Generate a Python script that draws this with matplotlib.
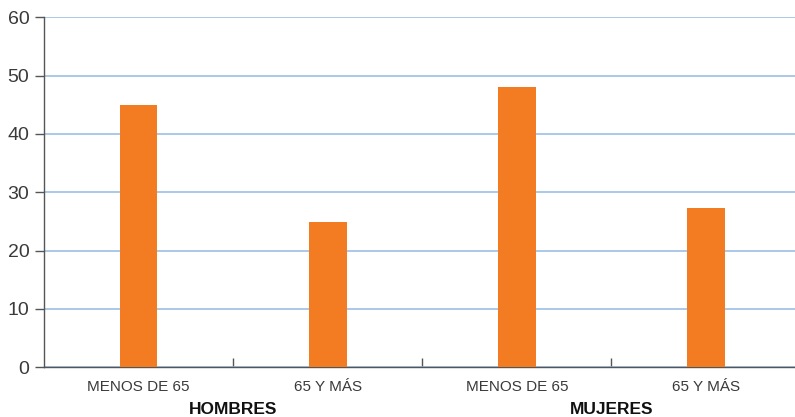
import numpy as np
import matplotlib.pyplot as plt
import matplotlib.transforms as mtransforms

plt.rcParams['font.family'] = ['Liberation Sans', 'DejaVu Sans']

categories = ['MENOS DE 65', '65 Y MÁS', 'MENOS DE 65', '65 Y MÁS']
groups = ['HOMBRES', 'MUJERES']
values = [44.9, 24.9, 48.0, 27.3]
yticks = [0, 10, 20, 30, 40, 50, 60]

fig = plt.figure(figsize=(7.95, 4.17), dpi=100)
ax = fig.add_axes([0.0553, 0.1192, 0.9447, 0.8393])

x = np.arange(len(categories))
ax.bar(x, values, width=0.2, color='#f37c22', zorder=3)

ax.set_ylim(0, 60)
ax.set_xlim(-0.5, 3.47)
ax.set_yticks(yticks)
ax.yaxis.grid(True, color='#93bbe0', linewidth=1.1, zorder=0)
ax.set_axisbelow(True)

for side in ['top', 'right']:
    ax.spines[side].set_visible(False)
for side in ['left', 'bottom']:
    ax.spines[side].set_color('#555555')
    ax.spines[side].set_linewidth(1.0)

ax.tick_params(axis='y', direction='out', length=6.5, width=1, color='#555555',
               labelsize=14, labelcolor='#3a3a3a', pad=4)
ax.set_xticks(x)
ax.set_xticklabels(categories)
ax.tick_params(axis='x', which='major', length=0, pad=9, labelsize=11, labelcolor='#3a3a3a')
# group separators
ax.set_xticks([0.5, 1.5, 2.5], minor=True)
ax.tick_params(axis='x', which='minor', direction='in', length=6.5, width=1, color='#555555')

trans = mtransforms.blended_transform_factory(ax.transData, fig.transFigure)
for i, g in enumerate(groups):
    ax.text(2 * i + 0.5, 1 - 409 / 417, g, transform=trans, ha='center', va='center',
            fontsize=12.5, fontweight='bold', color='#111111')

fig.savefig('out.png', dpi=100)
